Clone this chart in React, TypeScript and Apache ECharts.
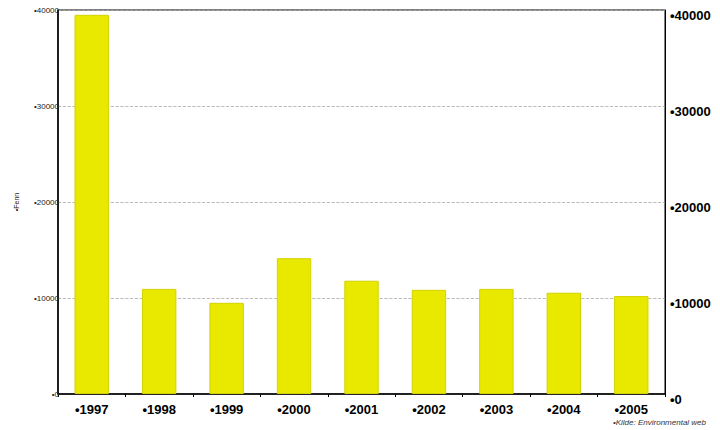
import React, { useEffect, useRef } from "react";
import * as echarts from "echarts";

const categories = ["1997", "1998", "1999", "2000", "2001", "2002", "2003", "2004", "2005"];
const values = [39500, 10950, 9500, 14150, 11800, 10850, 10950, 10550, 10200];
const axisMax = 40000;
const axisStep = 10000;
const yName = "•Fenn";
const sourceText = "•Kilde: Environmental web";

export default function App() {
  const ref = useRef<HTMLDivElement>(null);
  useEffect(() => {
    if (!ref.current) return;
    const chart = echarts.init(ref.current, null, { renderer: "svg" });
    chart.setOption({
      animation: false,
      backgroundColor: "#ffffff",
      textStyle: { fontFamily: "Liberation Sans, Arial, sans-serif" },
      grid: { left: 58, right: 55, top: 10, bottom: 36, show: true, borderColor: "#000", borderWidth: 1, backgroundColor: "transparent" },
      xAxis: {
        type: "category",
        data: categories,
        axisLine: { lineStyle: { color: "#000", width: 1.5 } },
        axisTick: { show: true, length: 3, lineStyle: { color: "#000" } },
        axisLabel: { formatter: (v: string) => "•" + v, fontSize: 13, fontWeight: "bold", color: "#000", margin: 9 },
      },
      yAxis: [
        {
          type: "value",
          min: 0,
          max: axisMax,
          interval: axisStep,
          position: "left",
          name: yName,
          nameLocation: "middle",
          nameGap: 38,
          nameRotate: 90,
          nameTextStyle: { fontSize: 7, color: "#222" },
          axisLine: { show: true, lineStyle: { color: "#000", width: 1.5 } },
          axisTick: { show: false },
          axisLabel: { formatter: (v: number) => "•" + v, fontSize: 8, color: "#222", margin: -1 },
          splitLine: { show: true, lineStyle: { color: "#aaa", type: "dashed", width: 0.8 } },
        },
        {
          type: "value",
          min: 0,
          max: axisMax,
          interval: axisStep,
          position: "right",
          axisLine: { show: true, lineStyle: { color: "#000", width: 1 } },
          axisTick: { show: false },
          axisLabel: { formatter: (v: number) => "•" + v, fontSize: 13, fontWeight: "bold", color: "#000", margin: 5, verticalAlign: "top", lineHeight: 10 },
          splitLine: { show: false },
        },
      ],
      series: [
        {
          type: "bar",
          data: values,
          barWidth: "51%",
          itemStyle: { color: "#E9E900", borderColor: "#D2D200", borderWidth: 1 },
        },
      ],
      graphic: [
        {
          type: "text",
          right: 14,
          top: 418,
          style: { text: sourceText, fontSize: 8, fontStyle: "italic", fill: "#333", fontFamily: "Liberation Sans, Arial, sans-serif" },
        },
      ],
    });
    return () => chart.dispose();
  }, []);
  return <div ref={ref} style={{ position: "fixed", left: 0, top: 0, width: 720, height: 430 }} />;
}
